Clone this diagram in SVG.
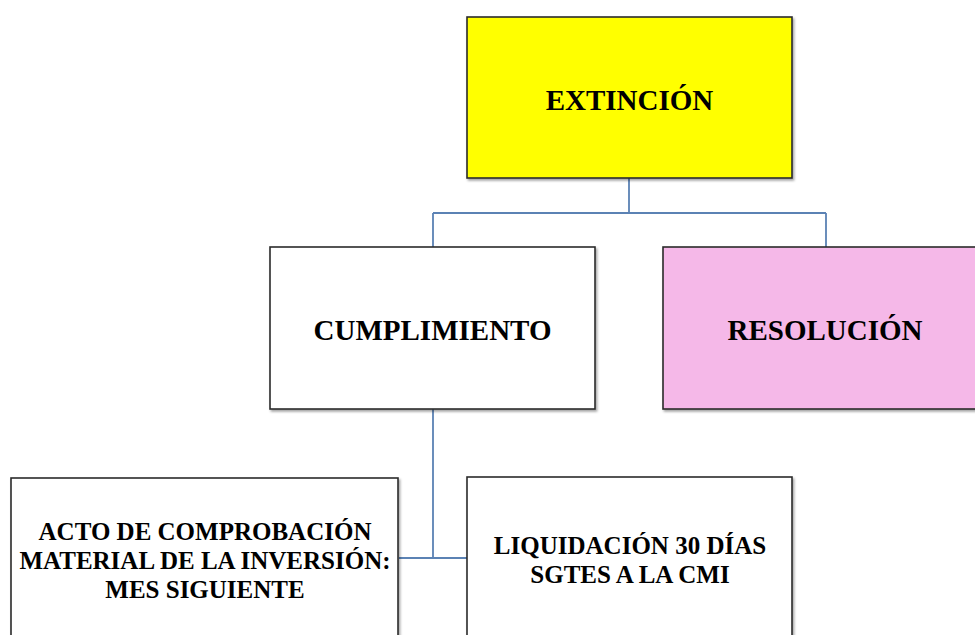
<svg xmlns="http://www.w3.org/2000/svg" width="975" height="635" viewBox="0 0 975 635">
<style>
.box{stroke:#2a2a2a;stroke-width:1.6;filter:url(#sh)}
.t{font-family:"Liberation Serif","Times New Roman",serif;font-weight:bold;fill:#000;text-anchor:middle}
.big{font-size:29px}
.small{font-size:25px}
.conn{fill:none;stroke:#5b82b4;stroke-width:1.8}
</style>
<defs>
<filter id="sh" x="-5%" y="-5%" width="112%" height="115%">
<feDropShadow dx="1.5" dy="2" stdDeviation="1.2" flood-color="#000" flood-opacity="0.35"/>
</filter>
</defs>
<rect width="975" height="635" fill="#fff"/>
<g id="connectors">
<path class="conn" d="M629,178 V213 M433,213 H826 M433,213 V247 M826,213 V247"/>
<path class="conn" d="M433,409 V558 M399,558 H467"/>
</g>
<g id="extincion">
<rect class="box" x="467" y="17" width="325" height="161" fill="#ffff00"/>
<text class="t big" x="629.5" y="110">EXTINCIÓN</text>
</g>
<g id="cumplimiento">
<rect class="box" x="270" y="247" width="325" height="162" fill="#fff"/>
<text class="t big" x="432.5" y="340">CUMPLIMIENTO</text>
</g>
<g id="resolucion">
<rect class="box" x="663" y="247" width="326" height="162" fill="#f5b8e8"/>
<text class="t big" x="825" y="340">RESOLUCIÓN</text>
</g>
<g id="acto">
<rect class="box" x="11" y="478" width="387" height="170" fill="#fff"/>
<text class="t small" x="205" y="540">ACTO DE COMPROBACIÓN</text>
<text class="t small" x="205" y="569">MATERIAL DE LA INVERSIÓN:</text>
<text class="t small" x="205" y="598">MES SIGUIENTE</text>
</g>
<g id="liquidacion">
<rect class="box" x="467" y="477" width="325" height="170" fill="#fff"/>
<text class="t small" x="630" y="554">LIQUIDACIÓN 30 DÍAS</text>
<text class="t small" x="630" y="583">SGTES A LA CMI</text>
</g>
</svg>
